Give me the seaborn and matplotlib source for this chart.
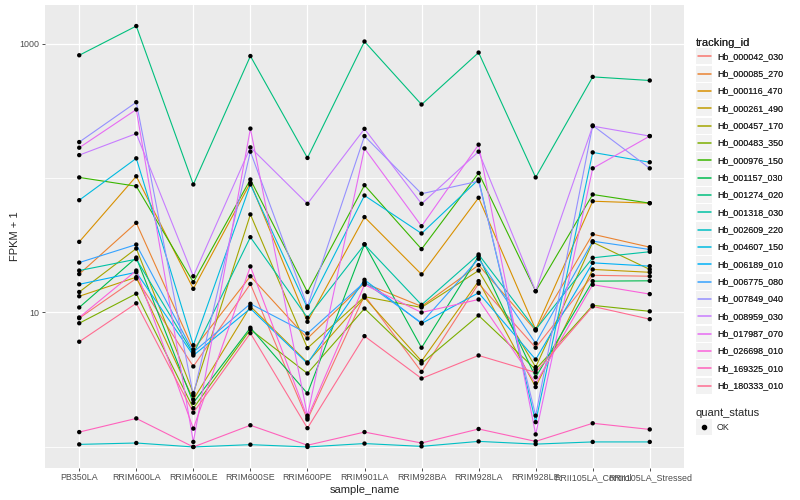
import numpy as np
import pandas as pd
import seaborn as sns
from matplotlib import pyplot as plt
from matplotlib.lines import Line2D
from matplotlib.patches import Rectangle
from matplotlib.legend_handler import HandlerBase
from matplotlib.ticker import FixedLocator, NullFormatter

# samples on the x axis
samples = ['PB350LA', 'RRIM600LA', 'RRIM600LE', 'RRIM600SE', 'RRIM600PE', 'RRIM901LA',
           'RRIM928BA', 'RRIM928LA', 'RRIM928LE', 'RRII105LA_Control', 'RRII105LA_Stressed']

tracking_ids = ['Hb_000042_030', 'Hb_000085_270', 'Hb_000116_470', 'Hb_000261_490',
                'Hb_000457_170', 'Hb_000483_350', 'Hb_000976_150', 'Hb_001157_030',
                'Hb_001274_020', 'Hb_001318_030', 'Hb_002609_220', 'Hb_004607_150',
                'Hb_006189_010', 'Hb_006775_080', 'Hb_007849_040', 'Hb_008959_030',
                'Hb_017987_070', 'Hb_026698_010', 'Hb_169325_010', 'Hb_180333_010']

# ggplot default hue palette for 20 levels
colors = ['#F8766D', '#EA8331', '#D89000', '#C09B00', '#A3A500', '#7CAE00', '#39B600',
          '#00BB4E', '#00BF7D', '#00C1A3', '#00BFC4', '#00BAE0', '#00B0F6', '#35A2FF',
          '#9590FF', '#C77CFF', '#E76BF3', '#FA62DB', '#FF62BC', '#FF6C91']

# FPKM + 1 per sample
hb_000042_030 = [9.07, 17.9, 3.97, 16.3, 1.60, 13.4, 3.62, 16.4, 5.47, 18.9, 18.6]
hb_000085_270 = [19.3, 46.4, 5.31, 18.6, 6.41, 16.5, 11.1, 22.5, 7.35, 38.2, 30.6]
hb_000116_470 = [33.5, 103, 15.0, 92.1, 8.53, 51.2, 19.2, 71.3, 7.47, 67.2, 65.0]
hb_000261_490 = [13.2, 18.3, 2.25, 11.1, 4.25, 12.9, 4.35, 17.1, 2.79, 20.9, 19.9]
hb_000457_170 = [14.2, 29.9, 2.51, 53.6, 5.43, 13.1, 10.9, 20.5, 3.92, 33.3, 20.9]
hb_000483_350 = [8.32, 13.8, 1.94, 7.47, 3.52, 10.7, 4.18, 9.50, 3.77, 11.3, 10.2]
hb_000976_150 = [101, 86.9, 16.8, 97.5, 14.2, 88.4, 29.6, 109, 14.4, 75.4, 65.0]
hb_001157_030 = [10.9, 25.6, 2.13, 7.70, 2.50, 32.2, 5.47, 26.2, 3.30, 17.1, 17.2]
hb_001274_020 = [818, 1349, 89.5, 807, 141, 1035, 352, 857, 101, 565, 531]
hb_001318_030 = [20.5, 24.9, 4.93, 36.3, 9.14, 32.0, 11.4, 27.0, 7.47, 25.5, 28.3]
hb_002609_220 = [1.045, 1.07, 1.0, 1.04, 1.0, 1.06, 1.01, 1.10, 1.05, 1.09, 1.09]
hb_004607_150 = [68.4, 140, 5.71, 89.5, 10.8, 74.1, 38.7, 97.5, 1.53, 155, 131]
hb_006189_010 = [16.2, 19.9, 4.79, 10.7, 4.18, 17.5, 8.28, 14.0, 4.47, 23.4, 22.1]
hb_006775_080 = [23.5, 32.0, 5.07, 11.6, 6.98, 16.8, 8.38, 25.1, 5.89, 33.9, 29.4]
hb_007849_040 = [185, 366, 2.42, 157, 11.1, 205, 76.4, 94.7, 1.71, 246, 118]
hb_008959_030 = [148, 214, 18.6, 169, 64.3, 232, 64.3, 157, 14.4, 243, 205]
hb_017987_070 = [168, 323, 1.09, 233, 1.71, 166, 43.8, 177, 1.24, 118, 205]
hb_026698_010 = [9.18, 20.5, 1.37, 22.0, 1.65, 16.1, 10.0, 12.5, 2.97, 16.1, 13.7]
hb_169325_010 = [1.29, 1.63, 1.0, 1.45, 1.03, 1.29, 1.07, 1.36, 1.10, 1.50, 1.35]
hb_180333_010 = [6.06, 11.7, 1.80, 7.02, 1.38, 6.67, 3.23, 4.79, 3.58, 11.1, 8.92]

series = [hb_000042_030, hb_000085_270, hb_000116_470, hb_000261_490, hb_000457_170,
          hb_000483_350, hb_000976_150, hb_001157_030, hb_001274_020, hb_001318_030,
          hb_002609_220, hb_004607_150, hb_006189_010, hb_006775_080, hb_007849_040,
          hb_008959_030, hb_017987_070, hb_026698_010, hb_169325_010, hb_180333_010]

rows = []
for tid, vals in zip(tracking_ids, series):
    for s, v in zip(samples, vals):
        rows.append({'sample_name': s, 'tracking_id': tid, 'fpkm': v, 'quant_status': 'OK'})
df = pd.DataFrame(rows)

sns.set_style('darkgrid', {'axes.facecolor': '#EBEBEB', 'grid.color': 'white'})
plt.rcParams['font.family'] = ['Liberation Sans', 'DejaVu Sans']

fig = plt.figure(figsize=(8, 5), dpi=100)
ax = fig.add_axes([45 / 800, 32 / 500, 639 / 800, 463 / 500])

sns.lineplot(data=df, x='sample_name', y='fpkm', hue='tracking_id',
             palette=dict(zip(tracking_ids, colors)), linewidth=0.8,
             sort=False, estimator=None, legend=False, ax=ax)
sns.scatterplot(data=df, x='sample_name', y='fpkm', color='black', s=10,
                edgecolor='none', legend=False, ax=ax, zorder=3)

ax.set_yscale('log')
lo, hi = np.log10(df['fpkm'].min()), np.log10(df['fpkm'].max())
pad = (hi - lo) * 0.05
ax.set_ylim(10 ** (lo - pad), 10 ** (hi + pad))
ax.set_xlim(-0.6, len(samples) - 0.4)

ax.yaxis.set_major_locator(FixedLocator([10, 1000]))
ax.yaxis.set_minor_locator(FixedLocator([1, 100]))
ax.yaxis.set_minor_formatter(NullFormatter())
ax.set_yticklabels(['10', '1000'])
ax.grid(which='major', color='white', linewidth=0.9)
ax.grid(which='minor', axis='y', color='white', linewidth=0.6)
ax.tick_params(which='minor', length=0)
ax.tick_params(which='major', bottom=True, left=True, length=2.2, width=0.6,
               color='#333333', labelsize=6.4, labelcolor='#4D4D4D', pad=1.6)
for sp in ax.spines.values():
    sp.set_visible(False)

ax.set_xlabel('sample_name', fontsize=8, labelpad=2)
ax.set_ylabel('FPKM + 1', fontsize=8, labelpad=0)


# ggplot-like legend key: grey box with a line or a point in the middle
class Key:
    def __init__(self, color, point=False):
        self.color = color
        self.point = point


class KeyHandler(HandlerBase):
    def create_artists(self, legend, orig_handle, xdescent, ydescent,
                       width, height, fontsize, trans):
        x0, y0 = -xdescent, -ydescent
        gap = 0.7
        box = Rectangle((x0 + gap / 2, y0 + gap / 2), width - gap, height - gap,
                        facecolor='#F2F2F2', edgecolor='none', transform=trans)
        cy = y0 + height / 2
        if orig_handle.point:
            mark = Line2D([x0 + width / 2], [cy], color=orig_handle.color, marker='o',
                          markersize=3, linestyle='none', transform=trans)
        else:
            mark = Line2D([x0 + 1.2, x0 + width - 1.2], [cy, cy], color=orig_handle.color,
                          linewidth=1.1, transform=trans)
        return [box, mark]


key_kw = dict(handler_map={Key: KeyHandler()}, frameon=False, fontsize=6.4, title_fontsize=8,
              alignment='left', handlelength=1.9, handleheight=2.56, labelspacing=0.04,
              handletextpad=0.45, borderpad=0, borderaxespad=0, loc='upper left')

leg1 = fig.legend([Key(c) for c in colors], tracking_ids, title='tracking_id',
                  bbox_to_anchor=(696 / 800, 1 - 37.5 / 500), **key_kw)
leg2 = fig.legend([Key('black', point=True)], ['OK'], title='quant_status',
                  bbox_to_anchor=(696 / 800, 1 - 408.5 / 500), **key_kw)
fig.add_artist(leg1)

fig.savefig('out.png', dpi=100)
